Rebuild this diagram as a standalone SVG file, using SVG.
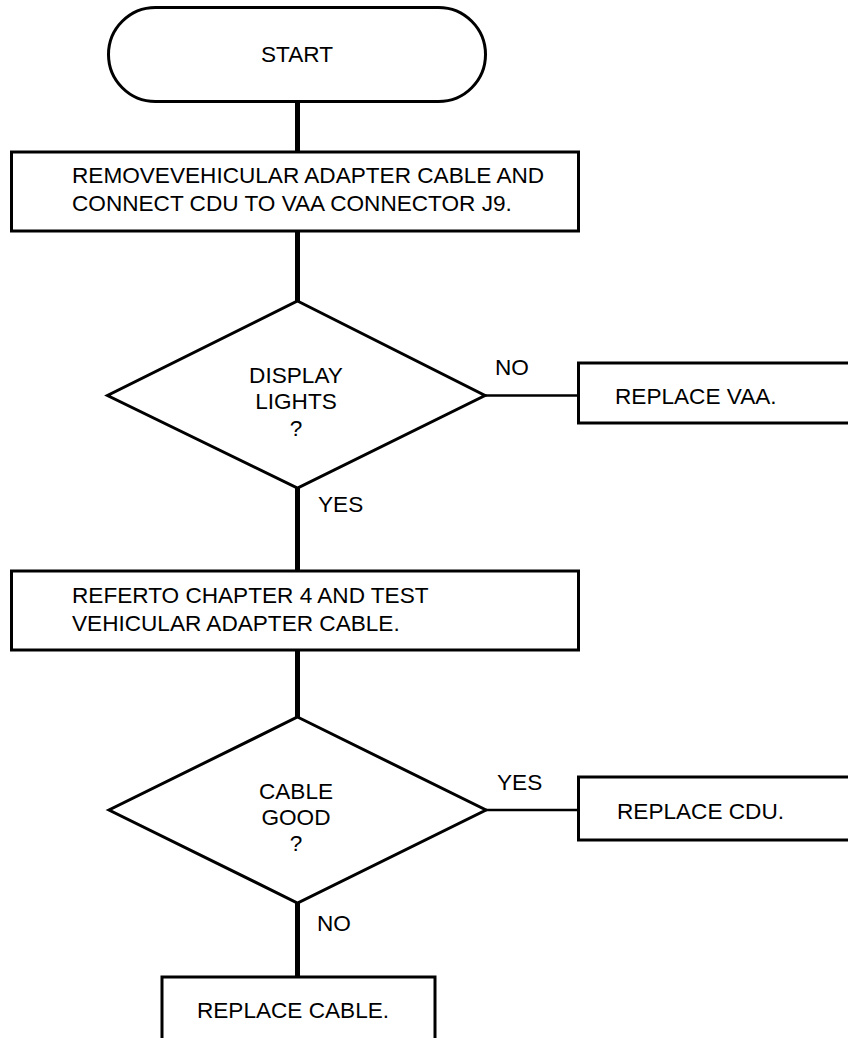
<svg xmlns="http://www.w3.org/2000/svg" width="848" height="1038" viewBox="0 0 848 1038">
<style>
.shape{fill:#fff;stroke:#000;stroke-width:3;stroke-linejoin:miter}
.conn{stroke:#000;stroke-width:5;fill:none}
.thin{stroke:#000;stroke-width:2.5;fill:none}
text{font-family:"Liberation Sans",Arial,Helvetica,sans-serif;font-size:22.6px;fill:#000}
.c{text-anchor:middle}
</style>
<rect width="848" height="1038" fill="#fff"/>
<g id="connectors">
<line class="conn" x1="297.5" y1="102" x2="297.5" y2="152"/>
<line class="conn" x1="297.5" y1="231" x2="297.5" y2="301"/>
<line class="conn" x1="297.5" y1="488" x2="297.5" y2="571"/>
<line class="conn" x1="297.5" y1="650" x2="297.5" y2="717"/>
<line class="conn" x1="297.5" y1="903" x2="297.5" y2="977"/>
<line class="thin" x1="485" y1="395.5" x2="578" y2="395.5"/>
<line class="thin" x1="486" y1="810" x2="578" y2="810"/>
<text x="495" y="375">NO</text>
<text x="318" y="512">YES</text>
<text x="497" y="790">YES</text>
<text x="317" y="931">NO</text>
</g>
<g id="start">
<rect class="shape" x="108.5" y="7.5" width="377" height="94" rx="47" ry="47"/>
<text class="c" x="297" y="62">START</text>
</g>
<g id="box1">
<rect class="shape" x="11.5" y="152" width="567" height="79"/>
<text x="72" y="183">REMOVEVEHICULAR ADAPTER CABLE AND</text>
<text x="72" y="211">CONNECT CDU TO VAA CONNECTOR J9.</text>
</g>
<g id="decision1">
<polygon class="shape" points="297.5,301 485,395.5 297.5,488 107.5,395.5"/>
<text class="c" x="296" y="383">DISPLAY</text>
<text class="c" x="296" y="409">LIGHTS</text>
<text class="c" x="296" y="436">?</text>
</g>
<g id="replace-vaa">
<rect class="shape" x="578.5" y="363" width="280" height="60"/>
<text x="615" y="404">REPLACE VAA.</text>
</g>
<g id="box2">
<rect class="shape" x="11.5" y="571" width="567" height="79"/>
<text x="72" y="603">REFERTO CHAPTER 4 AND TEST</text>
<text x="72" y="631">VEHICULAR ADAPTER CABLE.</text>
</g>
<g id="decision2">
<polygon class="shape" points="297.5,717 486,810 297.5,903 109,810"/>
<text class="c" x="296" y="799">CABLE</text>
<text class="c" x="296" y="825">GOOD</text>
<text class="c" x="296" y="851">?</text>
</g>
<g id="replace-cdu">
<rect class="shape" x="578.5" y="777" width="280" height="63"/>
<text x="617" y="819">REPLACE CDU.</text>
</g>
<g id="replace-cable">
<rect class="shape" x="162" y="977" width="273" height="70"/>
<text class="c" x="293" y="1018">REPLACE CABLE.</text>
</g>
</svg>
